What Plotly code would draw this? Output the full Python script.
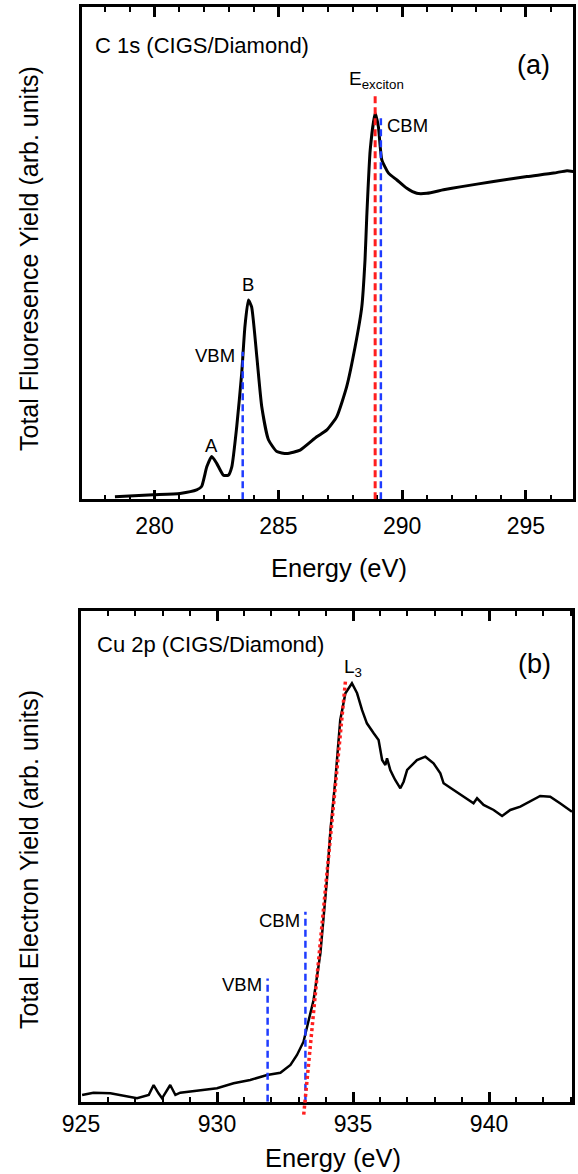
import plotly.graph_objects as go

# ---------------- data ----------------
c1s_energy = [278.4, 279.95, 281.03, 281.7, 281.9, 282.11, 282.31, 282.51, 282.78, 282.98,
              283.12, 283.32, 283.52, 283.65, 283.79, 283.92, 284.13, 284.33, 284.6, 284.94,
              285.34, 285.88, 286.55, 286.96, 287.36, 287.76, 288.1, 288.37, 288.5, 288.57,
              288.71, 288.91, 289.04, 289.18, 289.45, 289.79, 290.19, 290.59, 291.0, 291.67,
              292.34, 293.69, 295.04, 296.12, 296.66, 296.92]
c1s_tfy = [0.005, 0.009, 0.012, 0.019, 0.026, 0.066, 0.087, 0.073, 0.049, 0.049,
           0.066, 0.148, 0.256, 0.351, 0.405, 0.391, 0.290, 0.188, 0.121, 0.097,
           0.093, 0.100, 0.127, 0.141, 0.168, 0.229, 0.310, 0.391, 0.486, 0.574,
           0.710, 0.785, 0.757, 0.690, 0.663, 0.649, 0.632, 0.622, 0.622, 0.629,
           0.635, 0.646, 0.656, 0.663, 0.668, 0.666]

cu2p_energy = [925.04, 925.46, 926.08, 926.69, 927.06, 927.49, 927.67, 927.85, 927.98, 928.28,
               928.47, 928.65, 929.39, 930.0, 930.61, 931.22, 931.84, 932.33, 932.7, 932.94,
               933.18, 933.55, 933.8, 933.92, 934.04, 934.17, 934.35, 934.53, 934.72, 934.96,
               935.15, 935.33, 935.51, 935.76, 935.94, 936.07, 936.19, 936.25, 936.37, 936.49,
               936.55, 936.74, 936.86, 936.99, 937.35, 937.66, 937.96, 938.21, 938.33, 938.7,
               939.43, 939.56, 939.8, 940.17, 940.48, 940.78, 941.15, 941.88, 942.25, 942.61,
               943.05]
cu2p_tey = [0.0137, 0.0183, 0.0171, 0.0116, 0.0069, 0.0137, 0.034, 0.0171, 0.0069, 0.034,
            0.0137, 0.0183, 0.0238, 0.0273, 0.0375, 0.0442, 0.0544, 0.0591, 0.0748, 0.0952,
            0.1223, 0.2073, 0.3024, 0.3703, 0.4518, 0.5537, 0.6556, 0.7779, 0.8323, 0.8527,
            0.8323, 0.7983, 0.7711, 0.7508, 0.7371, 0.6963, 0.6861, 0.6998, 0.6760, 0.6623,
            0.6556, 0.6387, 0.6521, 0.6760, 0.6963, 0.7031, 0.6896, 0.6693, 0.6489, 0.6352,
            0.6081, 0.6183, 0.6047, 0.5945, 0.5822, 0.5945, 0.6012, 0.6230, 0.6216, 0.6081,
            0.5910]

# marker lines: (energy, top value)
c1s_vbm = (283.56, 0.300)
c1s_exciton = (288.91, 0.825)
c1s_cbm = (289.14, 0.775)
cu2p_vbm = (931.86, 0.251)
cu2p_cbm = (933.25, 0.387)
cu2p_edge_x = [934.72, 933.18]
cu2p_edge_y = [0.856, -0.031]

c1s_range = [277.07, 296.9]
cu2p_range = [925.0, 943.05]

# ---------------- figure ----------------
W, H = 578, 1174
FONT = "Arial, 'Liberation Sans', sans-serif"
BLUE = "#1f3cff"
RED = "#ff1f1f"


def px_x(p):
    return p / W


def px_y(p):
    return 1 - p / H


fig = go.Figure()
fig.add_trace(go.Scatter(x=c1s_energy, y=c1s_tfy, mode="lines",
                         line=dict(color="black", width=3, shape="spline", smoothing=0.5),
                         xaxis="x", yaxis="y", showlegend=False, hoverinfo="skip"))
fig.add_trace(go.Scatter(x=cu2p_energy, y=cu2p_tey, mode="lines",
                         line=dict(color="black", width=2.5),
                         xaxis="x2", yaxis="y2", showlegend=False, hoverinfo="skip"))

axis_common = dict(showline=True, linecolor="black", linewidth=2.5, mirror="allticks",
                   ticks="inside", ticklen=10, tickwidth=2.5, tickcolor="black",
                   showgrid=False, zeroline=False, automargin=False,
                   tickfont=dict(family=FONT, size=23, color="black"),
                   minor=dict(ticks="inside", ticklen=5, tickwidth=2, tickcolor="black",
                              dtick=1, showgrid=False))
yaxis_common = dict(showline=True, linecolor="black", linewidth=2.5, mirror=True,
                    ticks="", showticklabels=False, showgrid=False, zeroline=False,
                    range=[0, 1], automargin=False)

fig.update_layout(
    width=W, height=H, margin=dict(l=0, r=0, t=0, b=0),
    paper_bgcolor="white", plot_bgcolor="white",
    xaxis=dict(domain=[px_x(82), px_x(573)], range=c1s_range, dtick=5, tick0=0,
               anchor="y", ticklabelstandoff=4, **axis_common),
    yaxis=dict(domain=[px_y(499.3), px_y(7.3)], anchor="x", **yaxis_common),
    xaxis2=dict(domain=[px_x(81), px_x(572)], range=cu2p_range, dtick=5, tick0=0,
                anchor="y2", ticklabelstandoff=0, **axis_common),
    yaxis2=dict(domain=[px_y(1101.7), px_y(611)], anchor="x2", **yaxis_common),
)

shapes = []


def vline(xref, yref, e, top, color, width, dash):
    shapes.append(dict(type="line", xref=xref, yref=yref, x0=e, x1=e, y0=0, y1=top,
                       line=dict(color=color, width=width, dash=dash)))


vline("x", "y", c1s_vbm[0], c1s_vbm[1], BLUE, 2.5, "7px,4px")
vline("x", "y", c1s_exciton[0], c1s_exciton[1], RED, 3, "7px,4px")
vline("x", "y", c1s_cbm[0], c1s_cbm[1], BLUE, 2.5, "7px,4px")
vline("x2", "y2", cu2p_vbm[0], cu2p_vbm[1], BLUE, 2.5, "7px,4px")
vline("x2", "y2", cu2p_cbm[0], cu2p_cbm[1], BLUE, 2.5, "7px,4px")
shapes.append(dict(type="line", xref="x2", yref="y2 domain",
                   x0=cu2p_edge_x[0], x1=cu2p_edge_x[1], y0=cu2p_edge_y[0], y1=cu2p_edge_y[1],
                   line=dict(color=RED, width=3.5, dash="3px,3px")))
fig.update_layout(shapes=shapes)

ann = []


def text(t, x, y, xref, yref, size, xanchor="center", yanchor="middle", angle=0):
    ann.append(dict(text=t, x=x, y=y, xref=xref, yref=yref, showarrow=False,
                    xanchor=xanchor, yanchor=yanchor, textangle=angle,
                    font=dict(family=FONT, size=size, color="black")))


# panel (a)
text("C 1s (CIGS/Diamond)", 277.52, 0.923, "x", "y", 22, xanchor="left")
text("(a)", 296.05, 0.883, "x", "y", 27, xanchor="right")
text("E<sub>exciton</sub>", 288.98, 0.852, "x", "y", 19)
text("CBM", 289.31, 0.759, "x", "y", 18.5, xanchor="left")
text("VBM", 283.32, 0.293, "x", "y", 18.5, xanchor="right")
text("B", 283.79, 0.436, "x", "y", 18.5)
text("A", 282.31, 0.110, "x", "y", 18.5)
text("Energy (eV)", px_x(339), px_y(568), "paper", "paper", 25.5)
text("Total Fluoresence Yield (arb. units)", px_x(29), px_y(259), "paper", "paper", 25, angle=-90)

# panel (b)
text("Cu 2p (CIGS/Diamond)", 925.53, 0.931, "x2", "y2", 22, xanchor="left")
text("(b)", 942.36, 0.893, "x2", "y2", 27, xanchor="right")
text("L<sub>3</sub>", 935.0, 0.883, "x2", "y2", 19)
text("CBM", 933.13, 0.370, "x2", "y2", 18.5, xanchor="right")
text("VBM", 931.71, 0.238, "x2", "y2", 18.5, xanchor="right")
text("Energy (eV)", px_x(333), px_y(1158), "paper", "paper", 25.5)
text("Total Electron Yield (arb. units)", px_x(29), px_y(860), "paper", "paper", 25, angle=-90)

fig.update_layout(annotations=ann)

fig.write_html("out.html", config={"displayModeBar": False},
               post_script="document.body.style.margin='0';document.body.style.overflow='hidden';")
